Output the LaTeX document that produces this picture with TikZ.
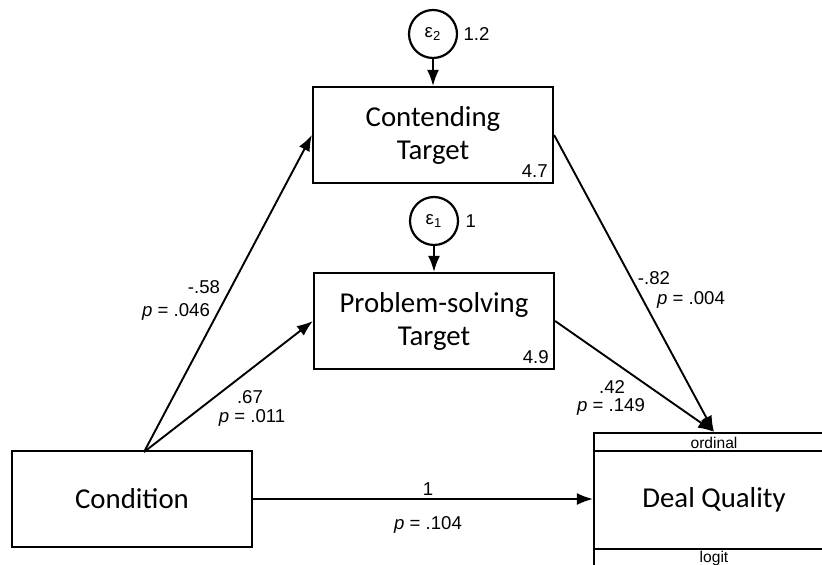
\documentclass[tikz,border=0pt]{standalone}
\usepackage{fontspec}
\setmainfont{Carlito}
\newfontfamily\estfont{Liberation Sans}
\usetikzlibrary{arrows.meta}

\begin{document}
\begin{tikzpicture}[x=0.5pt,y=-0.5pt,
    varbox/.style={draw,line width=1.1pt,minimum width=120pt,minimum height=48pt,
      inner sep=0pt,align=center,font=\fontsize{14.4}{16.5}\selectfont},
    errvar/.style={draw,circle,line width=1.1pt,minimum size=24pt,inner sep=0pt,
      font=\estfont\fontsize{9.3}{11}\selectfont},
    est/.style={inner sep=0pt,font=\estfont\fontsize{9.3}{11}\selectfont},
    arr/.style={line width=0.95pt,-{Latex[length=8pt,width=6pt]}}]
        \useasboundingbox (0,0) rectangle (822,565);
        \clip (0,0) rectangle (822,565);
        % observed variables
        \node[varbox] (cond) at (132,499) {Condition};
        \node[varbox] (contend) at (433,135) {Contending\\Target};
        \node[varbox] (prob) at (434,321) {Problem-solving\\Target};
        \node[varbox,minimum height=67pt] (deal) at (714,500) {Deal Quality};
        \draw[line width=1.1pt] ([yshift=-9.5pt]deal.north west) -- ([yshift=-9.5pt]deal.north east);
        \draw[line width=1.1pt] ([yshift=9.5pt]deal.south west) -- ([yshift=9.5pt]deal.south east);
        \node[est,font=\estfont\fontsize{7.8}{9}\selectfont] (ordlab) at (714,443) {ordinal};
        \node[est,font=\estfont\fontsize{7.8}{9}\selectfont] (logitlab) at (714,558) {logit};
        % intercepts
        \node[est,anchor=south east,inner sep=3pt] (contcons) at (contend.south east) {4.7};
        \node[est,anchor=south east,inner sep=3pt] (probcons) at (prob.south east) {4.9};
        % error terms
        \node[errvar] (e2) at (433,34) {ε\textsubscript{2}};
        \node[errvar] (e1) at (434,221) {ε\textsubscript{1}};
        \node[est,anchor=west,xshift=2.5pt] (e2var) at (e2.east) {1.2};
        \node[est,anchor=west,xshift=3pt] (e1var) at (e1.east) {1};
        \draw[arr] (e2) -- (contend);
        \draw[arr] (e1) -- (prob);
        % paths
        \coordinate (condtop) at (144,452);
        \draw[arr] (condtop) -- (contend.west);
        \draw[arr] (condtop) -- (prob.west);
        \draw[arr] (contend.east) -- (deal.north);
        \draw[arr] (prob.east) -- (deal.north);
        \draw[arr] (cond.east) -- (cond.east -| deal.west);
        % coefficients
        \node[est] (b1) at (204,287) {-.58};
        \node[est] (p1) at (176,312) {\textit{p} = .046};
        \node[est] (b2) at (250,397) {.67};
        \node[est] (p2) at (252,418) {\textit{p} = .011};
        \node[est] (b3) at (654,278) {-.82};
        \node[est] (p3) at (691,300) {\textit{p} = .004};
        \node[est] (b4) at (612,387) {.42};
        \node[est] (p4) at (611,407) {\textit{p} = .149};
        \node[est] (b5) at (428,489) {1};
        \node[est] (p5) at (428,525) {\textit{p} = .104};
\end{tikzpicture}
\end{document}
